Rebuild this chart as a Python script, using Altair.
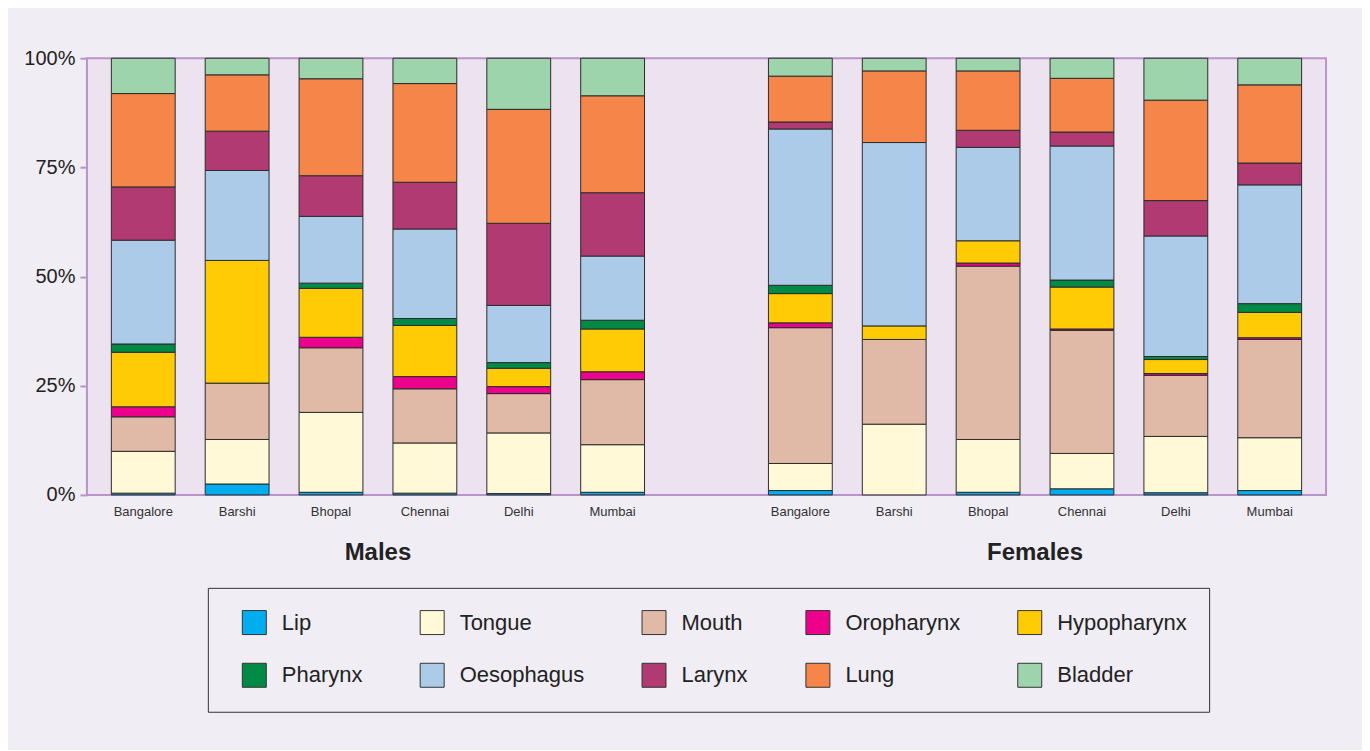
import altair as alt
import pandas as pd

# ---------------- data ----------------
sexes = ["Males", "Females"]
cities = ["Bangalore", "Barshi", "Bhopal", "Chennai", "Delhi", "Mumbai"]
sites = ["Lip", "Tongue", "Mouth", "Oropharynx", "Hypopharynx",
         "Pharynx", "Oesophagus", "Larynx", "Lung", "Bladder"]
site_colors = ["#00aeef", "#fff9d7", "#e0baa7", "#ec008c", "#ffcb05",
               "#008a45", "#abcbe9", "#b23a72", "#f58549", "#9dd4ac"]

# percentages: 6 male registries, then 6 female registries
lip =         [0.4, 2.5, 0.6, 0.4, 0.3, 0.6,   1.0, 0.0, 0.6, 1.4, 0.5, 1.0]
tongue =      [9.6, 10.2, 18.3, 11.5, 13.9, 10.9, 6.2, 16.2, 12.1, 8.1, 12.9, 12.1]
mouth =       [7.9, 12.9, 14.8, 12.4, 9.0, 14.9, 31.1, 19.4, 39.7, 28.2, 14.0, 22.5]
oropharynx =  [2.3, 0.0, 2.4, 2.8, 1.6, 1.8,   1.1, 0.0, 0.7, 0.3, 0.4, 0.4]
hypopharynx = [12.5, 28.1, 11.2, 11.7, 4.2, 9.8, 6.7, 3.1, 5.1, 9.6, 3.2, 5.8]
pharynx =     [1.9, 0.0, 1.2, 1.6, 1.3, 2.0,   1.9, 0.0, 0.0, 1.6, 0.7, 2.0]
oesophagus =  [23.8, 20.6, 15.3, 20.5, 13.1, 14.7, 35.8, 42.0, 21.4, 30.7, 27.6, 27.2]
larynx =      [12.2, 9.0, 9.3, 10.7, 18.8, 14.5, 1.6, 0.0, 3.9, 3.2, 8.1, 5.0]
lung =        [21.4, 12.9, 22.2, 22.6, 26.1, 22.2, 10.5, 16.4, 13.6, 12.3, 23.0, 17.9]
bladder =     [8.1, 3.8, 4.7, 5.8, 11.7, 8.6,   4.1, 2.9, 2.9, 4.6, 9.6, 6.1]

site_values = [lip, tongue, mouth, oropharynx, hypopharynx,
               pharynx, oesophagus, larynx, lung, bladder]

male_keys = [f"M|{c}" for c in cities]
female_keys = [f"F|{c}" for c in cities]
bar_keys = male_keys + female_keys
slots = male_keys + ["gap"] + female_keys

rows = []
for si, (site, vals) in enumerate(zip(sites, site_values)):
    for key, v in zip(bar_keys, vals):
        if v > 0:
            rows.append({"slot": key, "site": site, "rank": si, "pct": v})
df = pd.DataFrame(rows)

group_df = pd.DataFrame({"slot": ["M|Bhopal", "F|Bhopal"], "label": sexes})

FONT = "Liberation Sans, Arial, Helvetica, sans-serif"
PURPLE = "#b994c9"

x_scale = alt.Scale(type="band", domain=slots, paddingInner=0, paddingOuter=0.1)
x_axis = alt.Axis(
    labelExpr="datum.label == 'gap' ? '' : substring(datum.label, 2)",
    labelAngle=0, labelFontSize=13, labelColor="#333333", labelFont=FONT,
    ticks=False, domain=False, labelPadding=11, title=None,
)

bars = alt.Chart(df).mark_bar(
    width=alt.RelativeBandSize(0.68), stroke="#2b2b2b", strokeWidth=1
).encode(
    x=alt.X("slot:N", scale=x_scale, axis=x_axis, sort=None),
    y=alt.Y(
        "pct:Q", stack="normalize",
        scale=alt.Scale(domain=[0, 1]),
        axis=alt.Axis(values=[0, 0.25, 0.5, 0.75, 1], format=".0%",
                      labelFontSize=20, labelColor="#222222", labelFont=FONT,
                      tickColor=PURPLE, tickWidth=2, tickSize=7,
                      labelPadding=5, domain=False, grid=False, title=None),
    ),
    color=alt.Color(
        "site:N",
        scale=alt.Scale(domain=sites, range=site_colors),
        legend=alt.Legend(
            title=None, orient="none", legendX=121, legendY=530,
            columns=5, direction="horizontal",
            symbolType="square", symbolSize=576,
            symbolStrokeColor="#333333", symbolStrokeWidth=1,
            symbolOffset=12,
            labelFontSize=22, labelFont=FONT, labelColor="#222222",
            labelOffset=15, columnPadding=45, rowPadding=24,
            padding=22, strokeColor="#333333", labelLimit=300,
        ),
    ),
    order=alt.Order("rank:Q", sort="ascending"),
)

group_labels = alt.Chart(group_df).mark_text(
    fontSize=24, fontWeight="bold", font=FONT, color="#222222", baseline="middle"
).encode(
    x=alt.X("slot:N", scale=x_scale, axis=x_axis, sort=None, bandPosition=1),
    y=alt.value(495),
    text="label:N",
)

chart = alt.layer(bars, group_labels).properties(
    width=1240,
    height=437,
    padding={"left": 79, "top": 50, "right": 36, "bottom": 255},
    autosize=alt.AutoSizeParams(type="none"),
    background="#f0edf4",
).configure_view(
    fill="#ede2ef", stroke=PURPLE, strokeWidth=2
)

chart.save("out.html", embed_options={"renderer": "svg", "actions": False})
